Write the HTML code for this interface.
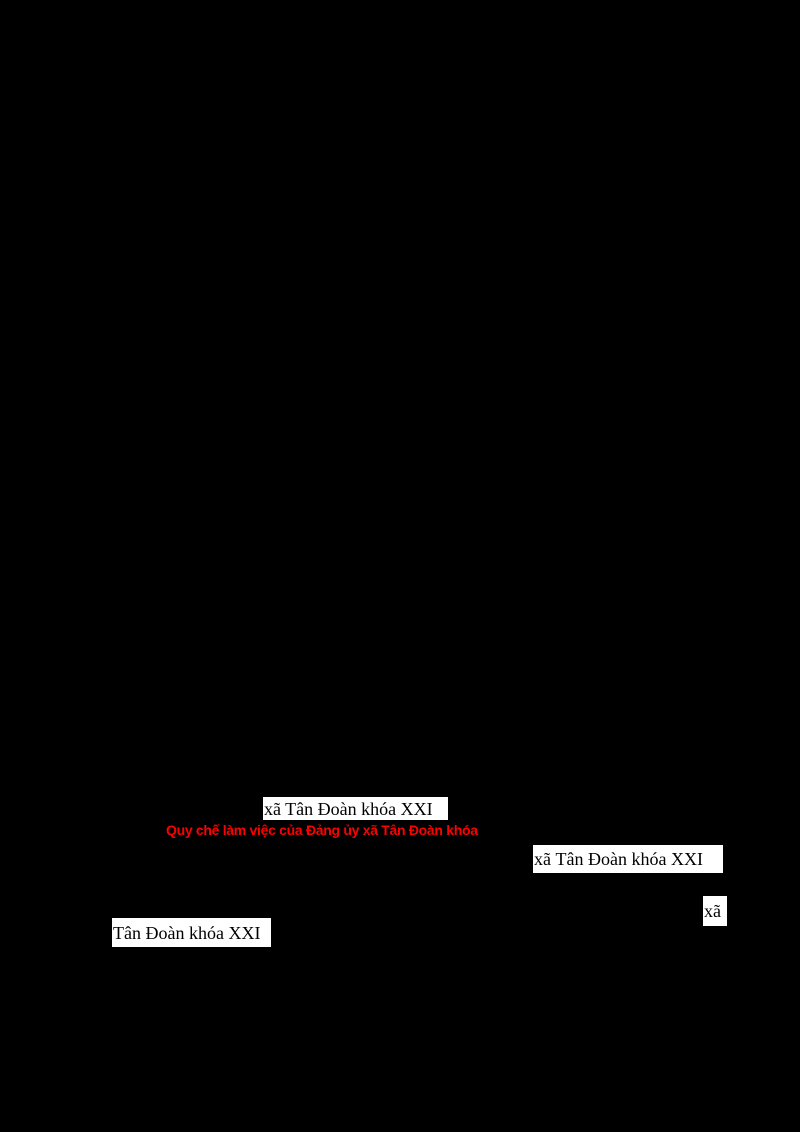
<!DOCTYPE html>
<html><head><style>
html,body{margin:0;padding:0;background:#000;width:800px;height:1132px;overflow:hidden}
.b{position:absolute;background:#fff;color:#000;font-family:"Liberation Serif",serif;font-size:18px;line-height:1;white-space:nowrap;display:flex;align-items:center;padding:0 1px;box-sizing:border-box;overflow:hidden}
.r{position:absolute;color:#f00;font-family:"Liberation Sans",sans-serif;font-weight:bold;font-size:14px;white-space:nowrap;letter-spacing:-0.3px}
</style></head><body>
<div class="b" style="left:263px;top:797px;width:185px;height:23px">xã Tân Đoàn khóa XXI</div>
<div class="r" style="left:166px;top:822px">Quy chế làm việc của Đảng ủy xã Tân Đoàn khóa</div>
<div class="b" style="left:533px;top:845px;width:190px;height:28px;justify-content:space-between">xã&nbsp;Tân&nbsp;Đoàn&nbsp;khóa&nbsp;XXI</div>
<div class="b" style="left:703px;top:896px;width:24px;height:30px">xã</div>
<div class="b" style="left:112px;top:918px;width:159px;height:29px">Tân Đoàn khóa XXI</div>
</body></html>
